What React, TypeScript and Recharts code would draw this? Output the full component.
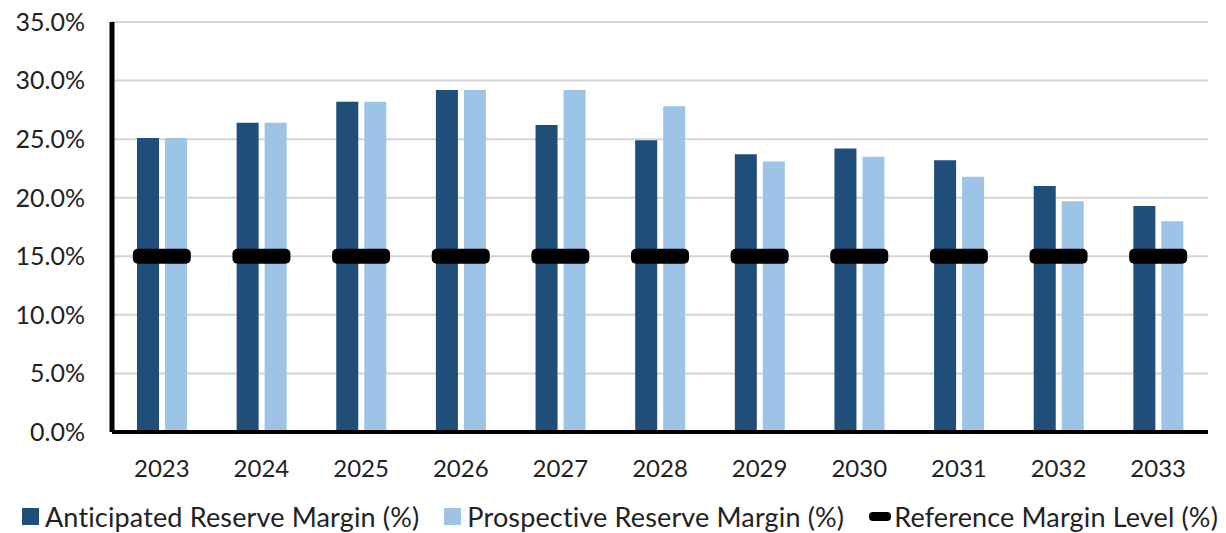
import { ComposedChart, Bar, Line, XAxis, YAxis, CartesianGrid, Legend } from 'recharts';

const years = ['2023', '2024', '2025', '2026', '2027', '2028', '2029', '2030', '2031', '2032', '2033'];
const anticipated = [25.1, 26.4, 28.2, 29.2, 26.2, 24.9, 23.7, 24.2, 23.2, 21.0, 19.3];
const prospective = [25.1, 26.4, 28.2, 29.2, 29.2, 27.8, 23.1, 23.5, 21.8, 19.7, 18.0];
const reference = [15, 15, 15, 15, 15, 15, 15, 15, 15, 15, 15];
const yTicks = [0, 5, 10, 15, 20, 25, 30, 35];

const DARK = '#1F4E79';
const LIGHT = '#9DC3E6';
const FONT = 'Lato, "Open Sans", sans-serif';

const data = years.map((year, i) => ({
  year,
  anticipated: anticipated[i],
  prospective: prospective[i],
  reference: reference[i],
}));

// thick black dash for the reference level, drawn at each category
const RefDash = (props: any) => {
  const { cx, cy } = props;
  if (cx == null || cy == null) return null;
  return <rect x={cx - 29} y={cy - 7.5} width={58} height={15} rx={5} ry={5} fill="#000" />;
};

const legendItems = [
  { label: 'Anticipated Reserve Margin (%)', color: DARK, kind: 'box' },
  { label: 'Prospective Reserve Margin (%)', color: LIGHT, kind: 'box' },
  { label: 'Reference Margin Level (%)', color: '#000', kind: 'dash' },
];

const LegendContent = () => (
  <div
    style={{
      display: 'flex',
      justifyContent: 'center',
      alignItems: 'center',
      gap: 25,
      paddingTop: 7,
      paddingLeft: 32,
      fontFamily: FONT,
      fontSize: 27,
      letterSpacing: 0.15,
      color: '#222',
      whiteSpace: 'nowrap',
    }}
  >
    {legendItems.map((it) => (
      <div key={it.label} style={{ display: 'flex', alignItems: 'center' }}>
        {it.kind === 'box' ? (
          <span style={{ width: 17, height: 17, background: it.color, marginRight: 6, display: 'inline-block' }} />
        ) : (
          <span
            style={{ width: 22, height: 9, background: it.color, borderRadius: 4, marginRight: 3, display: 'inline-block' }}
          />
        )}
        <span>{it.label}</span>
      </div>
    ))}
  </div>
);

export default function App() {
  return (
    <div style={{ position: 'absolute', left: 0, top: 0, background: '#fff' }}>
      <ComposedChart
        width={1226}
        height={533}
        data={data}
        margin={{ top: 22, right: 18, bottom: 0, left: 0 }}
        barSize={22}
        barGap={6}
      >
        <CartesianGrid vertical={false} stroke="#d4d4d4" strokeWidth={2} />
        <XAxis
          dataKey="year"
          height={61}
          axisLine={{ stroke: '#000', strokeWidth: 4 }}
          tickLine={false}
          tickMargin={22}
          tick={{ fill: '#222', fontSize: 24, fontFamily: FONT }}
        />
        <YAxis
          width={112}
          domain={[0, 35]}
          ticks={yTicks}
          interval={0}
          axisLine={{ stroke: '#000', strokeWidth: 5 }}
          tickLine={false}
          tickMargin={21}
          tickFormatter={(v) => `${Number(v).toFixed(1)}%`}
          tick={{ fill: '#222', fontSize: 25, fontFamily: FONT }}
        />
        <Legend verticalAlign="bottom" height={40} content={<LegendContent />} />
        <Bar dataKey="anticipated" fill={DARK} isAnimationActive={false} />
        <Bar dataKey="prospective" fill={LIGHT} isAnimationActive={false} />
        <Line
          dataKey="reference"
          stroke="none"
          dot={<RefDash />}
          activeDot={false}
          isAnimationActive={false}
        />
      </ComposedChart>
    </div>
  );
}
